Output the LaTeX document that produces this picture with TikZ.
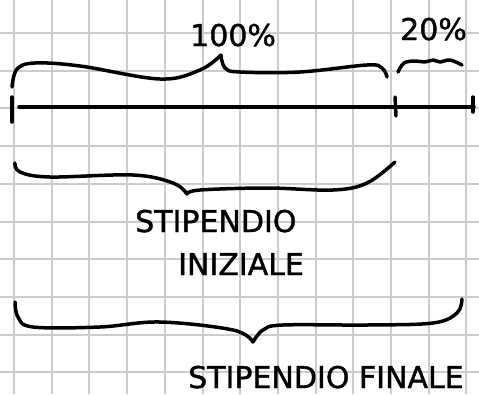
\documentclass[tikz,border=0pt]{standalone}
\usepackage{fontspec}
\setmainfont{DejaVu Sans}
\newfontfamily\handfont[FakeBold=1.2]{DejaVu Sans}
\begin{document}
\begin{tikzpicture}[x=1pt,y=-1pt,
  ink/.style={line width=3.5pt, line cap=round, line join=round},
  gridline/.style={black!20, line width=2pt},
  lbl/.style={font=\handfont\fontsize{30}{30}\selectfont, inner sep=0pt, anchor=base west}]
\fill[white] (0,0) rectangle (479,394);
\useasboundingbox (0,0) rectangle (479,394);
\foreach \i in {0,...,12} \draw[gridline] ({14+37.7*\i},0) -- ({14+37.7*\i},394);
\foreach \j in {0,...,9} \draw[gridline] (0,{33+37.7*\j}) -- (479,{33+37.7*\j});
% main segment with ticks
\coordinate (a) at (19,107);
\coordinate (b) at (474,107);
\draw[ink] (a) -- (b);
\draw[ink] (12,97) -- (12,122);
\draw[ink] (395,97) -- (396,116);
\draw[ink] (473,97) -- (473,112);
% top brace (100%)
\draw[ink] plot[smooth, tension=0.6] coordinates {(12,87) (17,69) (35,63) (80,66) (160,79) (200,70) (221,55)};
\draw[ink] plot[smooth, tension=0.6] coordinates {(221,55) (225,68) (240,72) (300,72) (367,65) (382,68) (387,77)};
% small wave (20%)
\draw[ink] plot[smooth, tension=0.6] coordinates {(398,72) (404,63) (415,61) (425,62) (433,60) (440,62) (450,60) (462,65)};
% middle brace
\draw[ink] plot[smooth, tension=0.6] coordinates {(15,163) (20,172) (50,177) (133,175) (173,183) (187,194)};
\draw[ink] plot[smooth, tension=0.6] coordinates {(187,194) (200,190) (267,188) (333,190) (367,183) (395,162)};
% bottom brace
\draw[ink] plot[smooth, tension=0.6] coordinates {(15,302) (18,317) (33,327) (100,327) (160,322) (233,330) (253,342)};
\draw[ink] plot[smooth, tension=0.6] coordinates {(253,342) (263,330) (283,325) (367,325) (433,323) (457,313) (462,299)};
% labels
\node[lbl] (p100) at (190,46) {100\%};
\node[lbl] (p20) at (400,40) {20\%};
\node[lbl] (s1) at (135,232) {STIPENDIO};
\node[lbl] (s2) at (178,275) {INIZIALE};
\node[lbl] (s3) at (188,388) {STIPENDIO FINALE};
\end{tikzpicture}
\end{document}
